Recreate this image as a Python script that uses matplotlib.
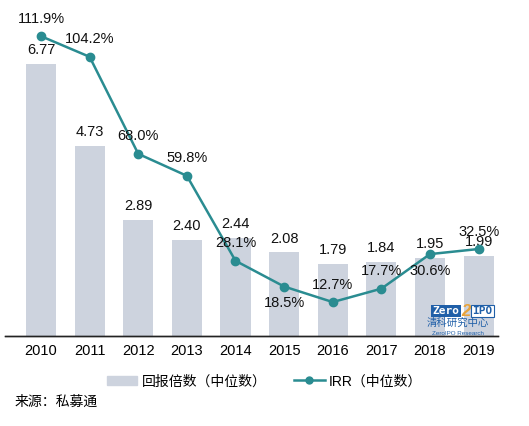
import matplotlib
matplotlib.use('Agg')
import matplotlib.pyplot as plt
import numpy as np
from matplotlib.lines import Line2D
from matplotlib.patches import Patch

plt.rcParams['font.family'] = ['Liberation Sans', 'Noto Sans CJK SC', 'DejaVu Sans']

# data
years = ['2010', '2011', '2012', '2013', '2014', '2015', '2016', '2017', '2018', '2019']
multiple = [6.77, 4.73, 2.89, 2.40, 2.44, 2.08, 1.79, 1.84, 1.95, 1.99]
irr = [111.9, 104.2, 68.0, 59.8, 28.1, 18.5, 12.7, 17.7, 30.6, 32.5]
irr_above = [True, True, True, True, True, False, True, True, False, True]

bar_color = '#CDD3DE'
line_color = '#2A8C91'

fig = plt.figure(figsize=(5.29, 4.26), dpi=100)
ax = fig.add_axes([0.0095, 0.211, 0.932, 0.755])
ax2 = ax.twinx()

x = np.arange(len(years))
ax.bar(x, multiple, width=0.62, color=bar_color, zorder=1)
for xi, v in zip(x, multiple):
    ax.annotate(f'{v:.2f}', (xi, v), xytext=(0, 5), textcoords='offset points',
                ha='center', va='bottom', fontsize=10.5, color='#111111')

ax2.plot(x, irr, color=line_color, lw=1.8, marker='o', ms=6, zorder=3)
for xi, v, up in zip(x, irr, irr_above):
    off = 7.5 if up else -7
    ax2.annotate(f'{v:.1f}%', (xi, v), xytext=(0, off), textcoords='offset points',
                 ha='center', va='bottom' if up else 'top', fontsize=10.5, color='#111111')

ax.set_xlim(-0.74, 9.4)
ax.set_ylim(0, 8)
ax2.set_ylim(0, 120)
ax.set_xticks(x)
ax.set_xticklabels(years, fontsize=10.5)
ax.tick_params(axis='x', length=0, pad=6)
ax.set_yticks([])
ax2.set_yticks([])
for a in (ax, ax2):
    for s in ('top', 'right', 'left'):
        a.spines[s].set_visible(False)
    a.spines['bottom'].set_color('#222222')
    a.spines['bottom'].set_linewidth(1.0)
ax.set_zorder(ax2.get_zorder() - 1)
ax2.patch.set_visible(False)
ax.patch.set_visible(False)

handles = [Patch(color=bar_color, label='回报倍数（中位数）'),
           Line2D([], [], color=line_color, lw=1.8, marker='o', ms=5, label='IRR（中位数）')]
fig.legend(handles=handles, loc='center', bbox_to_anchor=(0.5, 0.105), ncol=2,
           frameon=False, fontsize=10, handlelength=2.2, columnspacing=2.0,
           handletextpad=0.3)

fig.text(0.028, 0.056, '来源：私募通', fontsize=10, ha='left', va='center')

# ZeroIPO logo
fig.text(0.817, 0.27, 'Zero', fontsize=8, color='white', fontweight='bold', va='center',
         family='DejaVu Sans Mono',
         bbox=dict(boxstyle='square,pad=0.12', fc='#1F5FA8', ec='none'))
fig.text(0.880, 0.268, '2', fontsize=12, color='#E8A33A', fontweight='bold', va='center',
         ha='center', style='italic')
fig.text(0.893, 0.27, 'IPO', fontsize=8, color='#1F5FA8', fontweight='bold', va='center',
         family='DejaVu Sans Mono',
         bbox=dict(boxstyle='square,pad=0.12', fc='white', ec='#1F5FA8', lw=0.8))
fig.text(0.866, 0.243, '清科研究中心', fontsize=7.5, color='#1F5FA8', ha='center', va='center')
fig.text(0.866, 0.218, 'ZeroIPO Research', fontsize=4.5, color='#1F5FA8', ha='center', va='center')

fig.savefig('out.png', dpi=100)
